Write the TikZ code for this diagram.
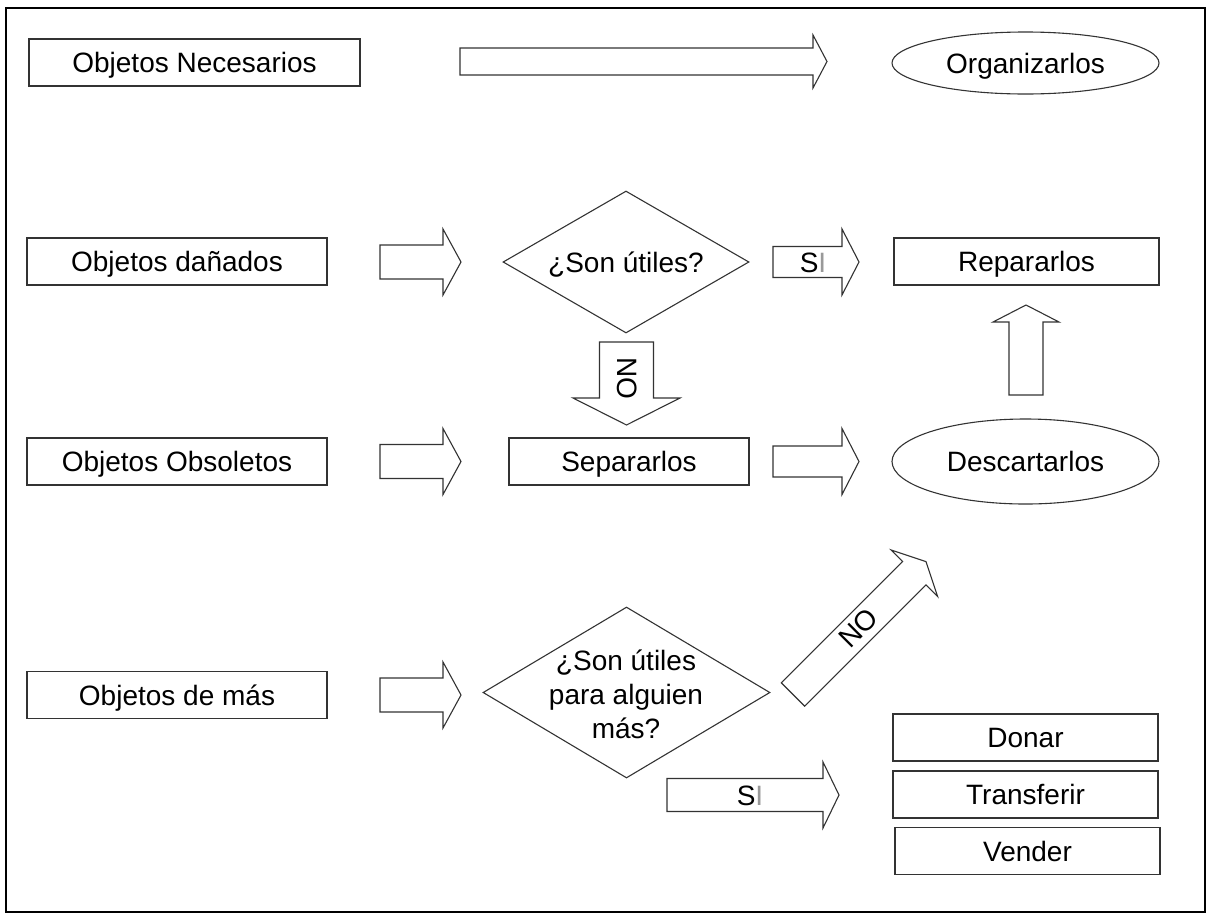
\documentclass[tikz,border=0pt]{standalone}
\usepackage{fontspec}
\setmainfont{Liberation Sans}
\usetikzlibrary{shapes.geometric}
\begin{document}
\begin{tikzpicture}[x=1pt,y=-1pt,
  basefont/.style={font=\fontsize{28}{34}\selectfont},
  txt/.style={basefont, inner sep=0pt, text height=20pt, text depth=0pt},
  multi/.style={basefont, inner sep=0pt, align=center},
  stepbox/.style={basefont, draw=black!80, line width=1.1pt, rectangle, inner sep=0pt,
    text height=20pt, text depth=0pt, minimum height=47pt},
  oval/.style={basefont, draw=black!80, line width=1.1pt, ellipse, inner sep=0pt,
    text height=20pt, text depth=0pt, minimum width=267pt},
  decision/.style={draw=black!80, line width=1.1pt, diamond, inner sep=0pt},
  arrowline/.style={draw=black!80, line width=1.1pt, fill=white, line join=miter},
  % block arrow: length, shaft half-width, head half-width, head length
  pics/blockarrow/.style n args={4}{code={
    \path[arrowline] (0,-#2) -- ({#1-#4},-#2) -- ({#1-#4},-#3) -- (#1,0)
      -- ({#1-#4},#3) -- ({#1-#4},#2) -- (0,#2) -- cycle;
  }},
]
\useasboundingbox (0,0) rectangle (1209,916);
\draw[line width=2pt] (6,8) rectangle (1205,912);

% row 1
\node[stepbox, minimum width=331pt] (nec) at (194.5,62.5) {Objetos Necesarios};
\pic (a0) at (460,61.5) {blockarrow={367}{13.5}{26.5}{14}};
\node[oval, minimum height=62pt] (org) at (1025.5,63) {Organizarlos};

% row 2
\node[stepbox, minimum width=300pt] (dan) at (177,261.5) {Objetos dañados};
\pic (a1) at (380,262) {blockarrow={81}{17}{33}{18}};
\node[decision, minimum width=246pt, minimum height=142pt] (q1) at (626,262) {};
\node[txt] (q1t) at (q1) {¿Son útiles?};
\pic (a2) at (773,262) {blockarrow={86}{15.5}{33}{17}};
\node[txt] (si1) at (813,262) {S\textcolor{black!40}{I}};
\node[stepbox, minimum width=265pt] (rep) at (1026.5,261.5) {Repararlos};

% vertical links
\pic[rotate=90] (a3) at (1026,395) {blockarrow={90}{17}{33}{17}};
\pic[rotate=-90] (a4) at (626.5,342) {blockarrow={83}{27}{53.5}{27}};
\node[txt, rotate=-90] (no1) at (627,378) {NO};

% row 3
\node[stepbox, minimum width=300pt] (obs) at (177,461.5) {Objetos Obsoletos};
\pic (a5) at (380,461.5) {blockarrow={81}{17}{33}{18}};
\node[stepbox, minimum width=240pt] (sep) at (629,461.5) {Separarlos};
\pic (a6) at (773,461.5) {blockarrow={86}{15.5}{33}{17}};
\node[oval, minimum height=85pt] (des) at (1025.5,461.5) {Descartarlos};

% row 4
\node[stepbox, minimum width=300pt] (mas) at (177,695) {Objetos de más};
\pic (a7) at (380,695) {blockarrow={81}{17}{33}{18}};
\node[decision, minimum width=287pt, minimum height=171pt] (q2) at (626.5,692.5) {};
\node[multi] (q2t) at (626,694) {¿Son útiles\\para alguien\\más?};
\pic[rotate=45] (a8) at (793,694.5) {blockarrow={188}{16.5}{33}{16.5}};
\node[txt, rotate=45] (no2) at (858,628) {NO};
\pic (a9) at (667,795) {blockarrow={172}{16.5}{33}{16}};
\node[txt] (si2) at (750,795) {S\textcolor{black!40}{I}};

% outcomes
\node[stepbox, minimum width=265pt] (don) at (1025.5,737.5) {Donar};
\node[stepbox, minimum width=265pt] (tra) at (1025.5,794.5) {Transferir};
\node[stepbox, minimum width=265pt] (ven) at (1027.5,851) {Vender};
\end{tikzpicture}
\end{document}
